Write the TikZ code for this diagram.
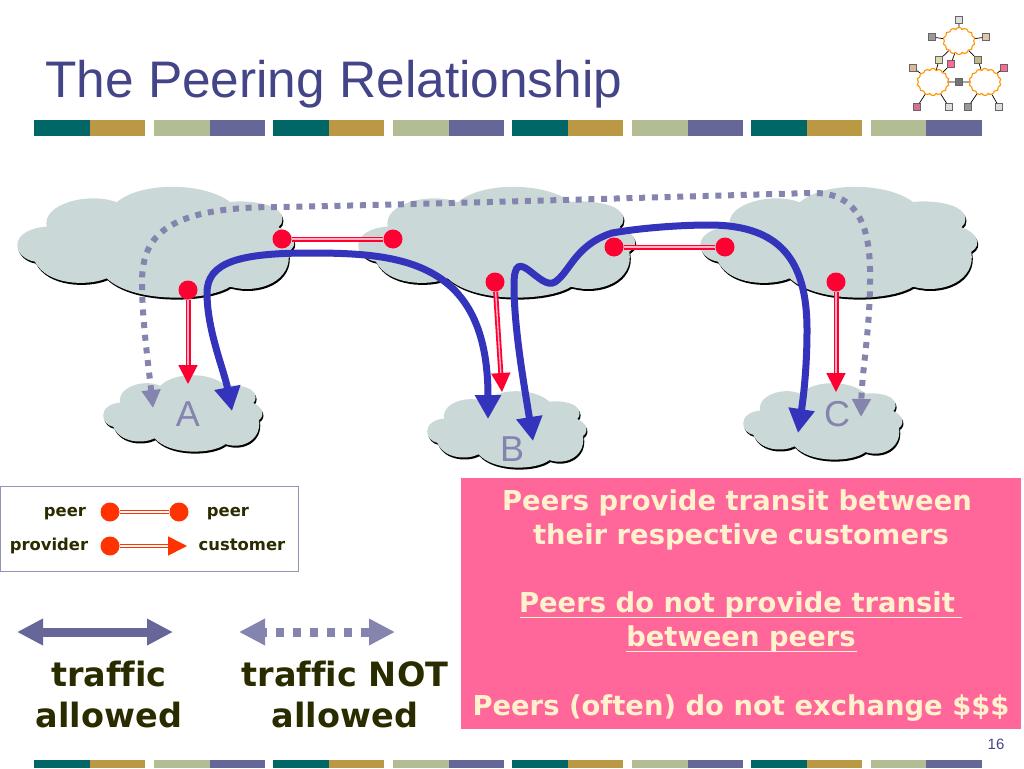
\documentclass[tikz,border=0pt]{standalone}
\usepackage{fontspec}
\setmainfont{Liberation Sans}
\newfontfamily\boldtext[Ligatures=NoCommon]{DejaVu Sans Bold}
\usetikzlibrary{arrows.meta, positioning, shapes.symbols}

\definecolor{teal1}{HTML}{006666}
\definecolor{gold1}{HTML}{BB9944}
\definecolor{sage1}{HTML}{B3BD94}
\definecolor{iris1}{HTML}{666699}
\definecolor{haze1}{HTML}{8484AE}
\definecolor{title1}{HTML}{444488}
\definecolor{cloud1}{HTML}{CBD8D8}
\definecolor{route1}{HTML}{3333BB}
\definecolor{link1}{HTML}{FF0033}
\definecolor{link2}{HTML}{FF3300}
\definecolor{olive1}{HTML}{2B2B00}
\definecolor{rose1}{HTML}{FF6699}
\definecolor{cream1}{HTML}{FFF2CC}

% outline of one cloud, 279 wide and 109 high
\newcommand{\cloudline}{(0.3,57) .. controls (0.3,47) and (13,39.3) .. (29.7,38.7)
   .. controls (24.7,15.3) and (73,3.7) .. (99.7,14.3)
   .. controls (123,-6.3) and (186.3,-6.3) .. (213,14)
   .. controls (229.7,12) and (253,15.3) .. (260.3,22)
   .. controls (267,27) and (267,35.3) .. (261.3,39.3)
   .. controls (276.3,43.7) and (283,57) .. (271.3,63.7)
   .. controls (276.3,92) and (243,107) .. (213,98.7)
   .. controls (189.7,113.7) and (116.3,115.3) .. (89.7,90.3)
   .. controls (69.7,98.7) and (29.7,97) .. (18,73.7)
   .. controls (8,72) and (0.3,65.3) .. cycle}
\newcommand{\netcloud}[4]{%
   \fill[black,shift={(#1+1,#2+2)},xscale=#3,yscale=#4] \cloudline;
   \fill[cloud1,shift={(#1,#2)},xscale=#3,yscale=#4] \cloudline;}

\tikzset{
   dot/.style={circle,fill=link1,inner sep=0pt,minimum size=19pt},
   legdot/.style={circle,fill=link2,inner sep=0pt,minimum size=19pt},
   peerline/.style={draw=link1,line width=1.8pt,double=white!70!link1,double distance=1.4pt},
   custline/.style={peerline,-{Triangle[length=19pt,width=19pt]}},
   legline/.style={draw=link2,line width=1.6pt,double=white,double distance=1.3pt},
   route/.style={draw=route1,line width=7pt,{Triangle[length=24pt,width=25pt]}-{Triangle[length=24pt,width=25pt]}},
   barred/.style={draw=haze1,line width=6pt,dash pattern=on 6pt off 6.7pt,{Triangle[length=18pt,width=18pt]}-{Triangle[length=18pt,width=18pt]}},
   keytext/.style={font=\boldtext\fontsize{16.4}{18}\selectfont,text=olive1,inner sep=0pt},
   bigtext/.style={font=\boldtext\fontsize{33.5}{41}\selectfont,text=olive1,inner sep=0pt,align=center},
   pinktext/.style={font=\boldtext\fontsize{27.4}{34}\selectfont,text=cream1,inner sep=0pt},
   sitename/.style={font=\fontsize{36}{36}\selectfont,text=haze1,inner sep=0pt},
   netcl/.style={cloud,cloud puffs=14,cloud puff arc=130,aspect=1.15,draw=orange!85!yellow,fill=white,line width=1.1pt,inner sep=0pt,minimum width=32pt,minimum height=27pt},
   netsq/.style={rectangle,draw=black!60,line width=0.7pt,inner sep=0pt,minimum size=7pt},
}

\begin{document}
\begin{tikzpicture}[x=1pt,y=-1pt]
   \useasboundingbox (0,0) rectangle (1024,768);

   % Bars
   \foreach \x in {34,273,512,751} {
      \fill[teal1] (\x,120) rectangle +(55.5,16);
      \fill[gold1] (\x+55.5,120) rectangle +(55.5,16);
      \fill[teal1] (\x,760) rectangle +(55.5,8);
      \fill[gold1] (\x+55.5,760) rectangle +(55.5,8);
   }
   \foreach \x in {154,393,632,870.5} {
      \fill[sage1] (\x,120) rectangle +(55.5,16);
      \fill[iris1] (\x+55.5,120) rectangle +(55.5,16);
      \fill[sage1] (\x,760) rectangle +(55.5,8);
      \fill[iris1] (\x+55.5,760) rectangle +(55.5,8);
   }
   \node[anchor=base west,inner sep=0pt,text=title1,font=\fontsize{51.4}{52}\selectfont] (title) at (45,97) {The Peering Relationship};
   \node[font=\fontsize{15}{15}\selectfont,text=title1,inner sep=0pt] (page) at (996,744) {16};

   % Small network
   \node[netcl] (ctop) at (959,41) {};
   \node[netcl] (cleft) at (933,82) {};
   \node[netcl] (cright) at (985,82) {};
   \foreach \name/\px/\py/\col/\into in {
      sa/959/20/black!13/ctop, sb/932/37/black!40/ctop, sc/986/37/brown!45/ctop,
      sd/939/60/yellow!40!gray!50/ctop, se/951/64/rose1/ctop, sf/978/60/olive!50!gray!60/ctop,
      sg/913/68/brown!55/cleft, sh/1004/68/rose1/cright, si/917/107/rose1!70!gray/cleft,
      sj/949/107/black!13/cleft, sk/968/107/black!40/cright, sl/999/107/black!13/cright} {
      \node[netsq,fill=\col] (\name) at (\px,\py) {};
      \draw[line width=0.7pt] (\name) -- (\into);
   }
   \draw[line width=0.7pt] (sd) -- (cleft);
   \draw[line width=0.7pt] (se) -- (cleft);
   \draw[line width=0.7pt] (sf) -- (cright);
   \node[netsq,fill=black!55] (sm) at (959,82) {};
   \draw[line width=0.7pt] (cleft) -- (sm) -- (cright);

   % Clouds
   \netcloud{17}{188}{1}{1}
   \netcloud{358}{188}{1}{1}
   \netcloud{700}{188}{1}{1}
   \netcloud{103}{376}{0.575}{0.69}
   \netcloud{427}{392}{0.575}{0.69}
   \netcloud{743}{384}{0.575}{0.69}
   \node[sitename] (sa1) at (188,414) {A};
   \node[sitename] (sb1) at (512,449) {B};
   \node[sitename] (sc1) at (837,414) {C};

   % Route ends
   \coordinate (ablue) at (232,411);
   \coordinate (bblue) at (488,419);
   \coordinate (bblue2) at (533,441);
   \coordinate (cblue) at (798,433);
   \coordinate (adash) at (153,408);
   \coordinate (cdash) at (861,417);
   \coordinate (acust) at (188,384);
   \coordinate (bcust) at (502,392);
   \coordinate (ccust) at (836,392);

   % Paths
   \draw[barred] (adash) .. controls (149,370) and (142,320) .. (142,283)
      .. controls (142,240) and (160,207) .. (277,207)
      .. controls (400,205) and (700,196) .. (812,193)
      .. controls (860,192) and (871,230) .. (870,280)
      .. controls (870,330) and (862,370) .. (cdash);
   \node[dot] (pa1) at (282,239) {};
   \node[dot] (pa2) at (393,239) {};
   \node[dot] (pb1) at (614,247) {};
   \node[dot] (pb2) at (725,247) {};
   \node[dot] (da) at (188,290) {};
   \node[dot] (db) at (495,282) {};
   \node[dot] (dc) at (836,282) {};
   \draw[peerline] (pa1) -- (pa2);
   \draw[peerline] (pb1) -- (pb2);
   \draw[custline] (da) -- (acust);
   \draw[custline] (db) -- (bcust);
   \draw[custline] (dc) -- (ccust);
   \draw[route] (ablue) .. controls (224,370) and (207,330) .. (207,293)
      .. controls (207,262) and (240,253) .. (310,253)
      .. controls (400,253) and (488,260) .. (bblue);
   \draw[route] (bblue2) .. controls (525,390) and (514,330) .. (514,285)
      .. controls (514,240) and (540,292) .. (555,282)
      .. controls (570,272) and (575,245) .. (612,233)
      .. controls (640,228) and (680,225) .. (709,225)
      .. controls (780,225) and (807,260) .. (807,330)
      .. controls (807,370) and (803,400) .. (cblue);

   % Key
   \node[draw=iris1!70,fill=white,line width=0.8pt,inner sep=0pt,minimum width=298pt,minimum height=85pt,anchor=north west] (keybox) at (0,486) {};
   \node[keytext,anchor=base] (kpa) at (65,516) {peer};
   \node[keytext,anchor=base] (kpb) at (228,516) {peer};
   \node[keytext,anchor=base] (kpc) at (49,550) {provider};
   \node[keytext,anchor=base] (kpd) at (242,550) {customer};
   \node[legdot] (ka1) at (110,512) {};
   \node[legdot] (ka2) at (179,512) {};
   \node[legdot] (kb1) at (110,546) {};
   \coordinate (kb2) at (187,546);
   \draw[legline] (ka1) -- (ka2);
   \draw[legline,-{Triangle[length=19pt,width=19pt]}] (kb1) -- (kb2);

   \coordinate (ta) at (17,632);
   \coordinate (tb) at (173,632);
   \coordinate (tc) at (239,632);
   \coordinate (td) at (395,632);
   \draw[draw=iris1,line width=9pt,{Triangle[length=26pt,width=25pt]}-{Triangle[length=26pt,width=25pt]}] (ta) -- (tb);
   \draw[draw=haze1,line width=9pt,dash pattern=on 8pt off 9pt,dash phase=4pt,{Triangle[length=26pt,width=25pt]}-{Triangle[length=26pt,width=25pt]}] (tc) -- (td);
   \node[bigtext] (ttext) at (109,695) {traffic\\allowed};
   \node[bigtext] (ntext) at (345,695) {traffic NOT\\allowed};

   % Pink box
   \node[fill=rose1,minimum width=560pt,minimum height=251pt,inner sep=0pt,anchor=north west] (pinkbox) at (461,478) {};
   \node[pinktext,anchor=base] (la) at (737,510) {Peers provide transit between};
   \node[pinktext,anchor=base] (lb) at (741,544) {their respective customers};
   \node[pinktext,anchor=base] (lc) at (737,612) {Peers do not provide transit};
   \node[pinktext,anchor=base] (ld) at (741,646) {between peers};
   \node[pinktext,anchor=base] (le) at (741,715) {Peers (often) do not exchange \$\$\$};
   \fill[cream1] (520,616.5) rectangle (962,618);
   \fill[cream1] (626,650.5) rectangle (857,652);
\end{tikzpicture}
\end{document}
